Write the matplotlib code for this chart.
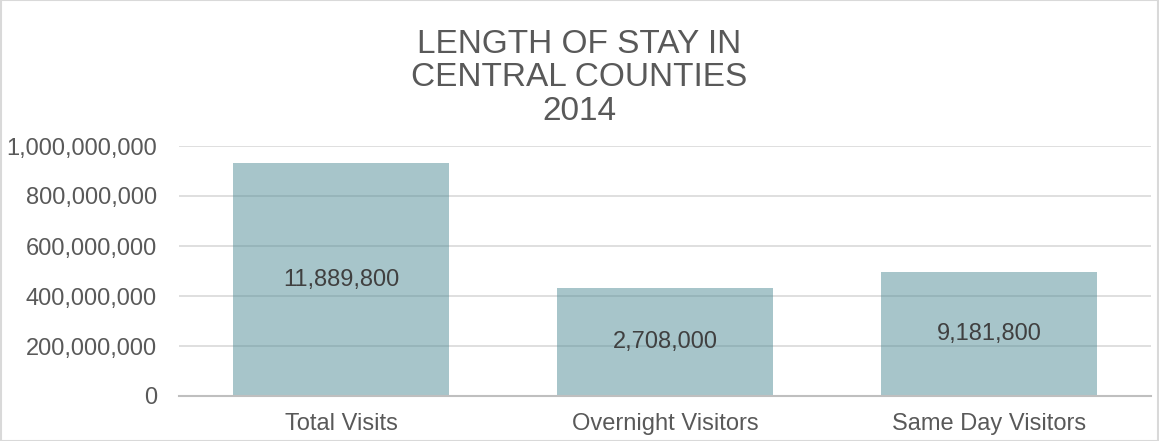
import matplotlib
matplotlib.use("Agg")
import matplotlib.pyplot as plt
from matplotlib.patches import Rectangle
from matplotlib.ticker import FuncFormatter

categories = ["Total Visits", "Overnight Visitors", "Same Day Visitors"]
values = [931_000_000, 434_000_000, 496_000_000]
bar_labels = ["11,889,800", "2,708,000", "9,181,800"]
yticks = [0, 200_000_000, 400_000_000, 600_000_000, 800_000_000, 1_000_000_000]
title = "LENGTH OF STAY IN\nCENTRAL COUNTIES\n2014"

plt.rcParams['font.family'] = ['Liberation Sans', 'DejaVu Sans']
text_color = '#595959'

fig = plt.figure(figsize=(11.59, 4.41), dpi=100)
ax = fig.add_axes([179/1159, 1-396/441, 972/1159, 250/441])

x = range(len(categories))
bars = ax.bar(x, values, width=0.667, color='#518D97', alpha=0.5, zorder=2)
for rect, lab in zip(bars, bar_labels):
    ax.text(rect.get_x() + rect.get_width()/2, rect.get_height()/2, lab,
            ha='center', va='center', fontsize=17, color='#404040', zorder=3)

ax.set_xlim(-0.5, len(categories) - 0.5)
ax.set_ylim(0, 1_000_000_000)
ax.set_yticks(yticks)
ax.yaxis.set_major_formatter(FuncFormatter(lambda v, p: f"{int(v):,}"))
ax.set_xticks(list(x))
ax.set_xticklabels(categories)
ax.tick_params(axis='y', length=0, pad=16, labelsize=17, labelcolor=text_color)
ax.tick_params(axis='x', length=0, pad=12, labelsize=17, labelcolor=text_color)
ax.grid(axis='y', color='#d9d9d9', linewidth=1.2, zorder=1)
ax.set_axisbelow(True)
for s in ['left', 'right', 'top']:
    ax.spines[s].set_visible(False)
ax.spines['bottom'].set_color('#bfbfbf')
ax.spines['bottom'].set_linewidth(1.5)
ax.spines['bottom'].set_zorder(4)

fig.text(0.5, 1-78/441, title, ha='center', va='center', fontsize=24,
         color=text_color, linespacing=1.12)

fig.patches.append(Rectangle((0.0005, 0.001), 0.999, 0.998, transform=fig.transFigure,
                             fill=False, edgecolor='#d9d9d9', linewidth=1.5))

fig.savefig("out.png", dpi=100, facecolor='white')
